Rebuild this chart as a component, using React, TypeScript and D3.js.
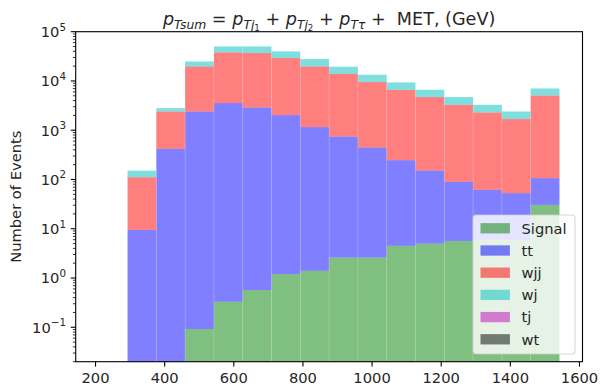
import React from "react";
import * as d3 from "d3";

// Histogram bin edges (GeV)
const binEdges = [209.3, 292.6, 375.9, 459.2, 542.5, 625.8, 709.1, 792.4, 875.7, 959.0, 1042.3, 1125.6, 1208.9, 1292.2, 1375.5, 1458.8, 1542.1];

// Per-bin event counts (stacked in this order)
const signal = [0, 0, 0, 0.092, 0.33, 0.57, 1.2, 1.4, 2.6, 2.6, 4.5, 5.0, 5.65, 5.9, 5.9, 30.5];
const tt = [0, 9.5, 419, 2399, 3556, 2892, 2027, 1155, 742, 442, 242, 147, 84, 56, 47, 76];
const wjj = [0, 102, 1980, 17320, 34400, 34000, 27160, 18560, 13260, 9055, 6378, 4558, 3192, 2230, 1630, 4964];
const wj = [0, 40, 413, 5190, 12280, 13300, 10620, 8140, 5450, 3870, 2705, 1915, 1429, 990, 716, 1970];
const tj = [0, 0, 0, 0, 0, 0, 0, 0, 0, 0, 0, 0, 0, 0, 0, 0];
const wt = [0, 0, 0, 0, 0, 0, 0, 0, 0, 0, 0, 0, 0, 0, 0, 0];

const seriesNames = ["Signal", "tt", "wjj", "wj", "tj", "wt"];
const seriesColors = ["#008000", "#0000ff", "#ff0000", "#00bfbf", "#bf00bf", "#000000"];
const seriesValues = [signal, tt, wjj, wj, tj, wt];

const xTicks = [200, 400, 600, 800, 1000, 1200, 1400, 1600];
const yTickExps = [-1, 0, 1, 2, 3, 4, 5];

const W = 600, H = 387;
const M = { left: 75.7, right: 582.5, top: 31.7, bottom: 361.7 };
const FONT = "DejaVu Sans";
const FS = 14.7;

export default function App() {
  const span = binEdges[binEdges.length - 1] - binEdges[0];
  const x = d3.scaleLinear()
    .domain([binEdges[0] - 0.05 * span, binEdges[binEdges.length - 1] + 0.05 * span])
    .range([M.left, M.right]);
  const y = d3.scaleLog().domain([0.02, 1e5]).range([M.bottom, M.top]);

  const yPix = (v: number) => (v <= 0 ? M.bottom + 5 : Math.min(y(v), M.bottom + 5));

  // stacked rects
  const rects: JSX.Element[] = [];
  const cum = binEdges.slice(0, -1).map(() => 0);
  seriesValues.forEach((vals, si) => {
    vals.forEach((v, bi) => {
      const b0 = cum[bi];
      const b1 = b0 + v;
      cum[bi] = b1;
      if (v <= 0 || b1 <= 0) return;
      const yTop = yPix(b1);
      const yBot = yPix(b0);
      const x0 = x(binEdges[bi]);
      const x1 = x(binEdges[bi + 1]);
      rects.push(
        <rect key={`${si}-${bi}`} x={x0} y={yTop} width={x1 - x0} height={Math.max(0, yBot - yTop)}
          fill={seriesColors[si]} fillOpacity={0.5} />
      );
    });
  });

  // faint seams between adjacent bins
  const seams: JSX.Element[] = [];
  for (let i = 1; i < binEdges.length - 1; i++) {
    const h = Math.min(cum[i - 1], cum[i]);
    if (h <= 0) continue;
    const xx = x(binEdges[i]);
    seams.push(
      <line key={`sm${i}`} x1={xx} x2={xx} y1={yPix(h)} y2={M.bottom} stroke="#fff" strokeOpacity={0.25} strokeWidth={0.8} />
    );
  }

  // minor ticks
  const minor: number[] = [];
  for (let e = -2; e <= 4; e++) {
    for (let k = 2; k <= 9; k++) {
      const v = k * Math.pow(10, e);
      if (v >= 0.02 && v <= 1e5) minor.push(v);
    }
  }

  const legX = 473, legY = 215, legW = 102, legH = 139;
  const rowY0 = 228.3, rowDY = 22.2;

  return (
    <svg width={W} height={H} style={{ position: "absolute", left: 0, top: 0, background: "#fff" }}
      fontFamily={FONT}>
      <rect x={0} y={0} width={W} height={H} fill="#fff" />
      <clipPath id="plotclip">
        <rect x={M.left} y={M.top} width={M.right - M.left} height={M.bottom - M.top} />
      </clipPath>
      <g clipPath="url(#plotclip)">{rects}{seams}</g>

      {/* spines */}
      <rect x={M.left} y={M.top} width={M.right - M.left} height={M.bottom - M.top}
        fill="none" stroke="#000" strokeWidth={1.1} />

      {/* x ticks */}
      {xTicks.map((t) => (
        <g key={`xt${t}`}>
          <line x1={x(t)} x2={x(t)} y1={M.bottom} y2={M.bottom + 4.9} stroke="#000" strokeWidth={1.1} />
          <text x={x(t)} y={383} textAnchor="middle" fontSize={FS} fill="#262626">{t}</text>
        </g>
      ))}

      {/* y ticks */}
      {yTickExps.map((e) => {
        const yy = y(Math.pow(10, e));
        return (
          <g key={`yt${e}`}>
            <line x1={M.left - 4.9} x2={M.left} y1={yy} y2={yy} stroke="#000" strokeWidth={1.1} />
            <text x={66} y={yy + 5.3} textAnchor="end" fontSize={FS} fill="#262626">
              10<tspan dy={-6.5} fontSize={10.3}>{e < 0 ? `\u2212${-e}` : `${e}`}</tspan>
            </text>
          </g>
        );
      })}
      {minor.map((v, i) => (
        <line key={`mn${i}`} x1={M.left - 2.8} x2={M.left} y1={y(v)} y2={y(v)} stroke="#000" strokeWidth={0.8} />
      ))}

      {/* y label */}
      <text transform={`translate(21,${(M.top + M.bottom) / 2}) rotate(-90)`} textAnchor="middle"
        fontSize={FS} fill="#262626">Number of Events</text>

      {/* title */}
      <text x={(M.left + M.right) / 2} y={25} textAnchor="middle" fontSize={17.6} fill="#262626">
        <tspan fontStyle="italic">p</tspan>
        <tspan fontStyle="italic" fontSize={12.3} dy={3.5}>Tsum</tspan>
        <tspan dy={-3.5}> = </tspan>
        <tspan fontStyle="italic">p</tspan>
        <tspan fontStyle="italic" fontSize={12.3} dy={3.5}>Tj</tspan>
        <tspan fontSize={8.6} dy={2.5}>1</tspan>
        <tspan dy={-6}> + </tspan>
        <tspan fontStyle="italic">p</tspan>
        <tspan fontStyle="italic" fontSize={12.3} dy={3.5}>Tj</tspan>
        <tspan fontSize={8.6} dy={2.5}>2</tspan>
        <tspan dy={-6}> + </tspan>
        <tspan fontStyle="italic">p</tspan>
        <tspan fontStyle="italic" fontSize={12.3} dy={3.5}>Tτ</tspan>
        <tspan dy={-3.5}>{" +\u00a0\u00a0MET, (GeV)"}</tspan>
      </text>

      {/* legend */}
      <rect x={legX} y={legY} width={legW} height={legH} rx={3} ry={3}
        fill="#fff" fillOpacity={0.8} stroke="#cccccc" strokeOpacity={0.8} strokeWidth={1.1} />
      {seriesNames.map((n, i) => {
        const cy = rowY0 + i * rowDY;
        return (
          <g key={`lg${n}`}>
            <rect x={480.5} y={cy - 5.15} width={29.4} height={10.3} fill={seriesColors[i]} fillOpacity={0.5} />
            <text x={521.5} y={cy + 5.3} fontSize={FS} fill="#262626">{n}</text>
          </g>
        );
      })}
    </svg>
  );
}
